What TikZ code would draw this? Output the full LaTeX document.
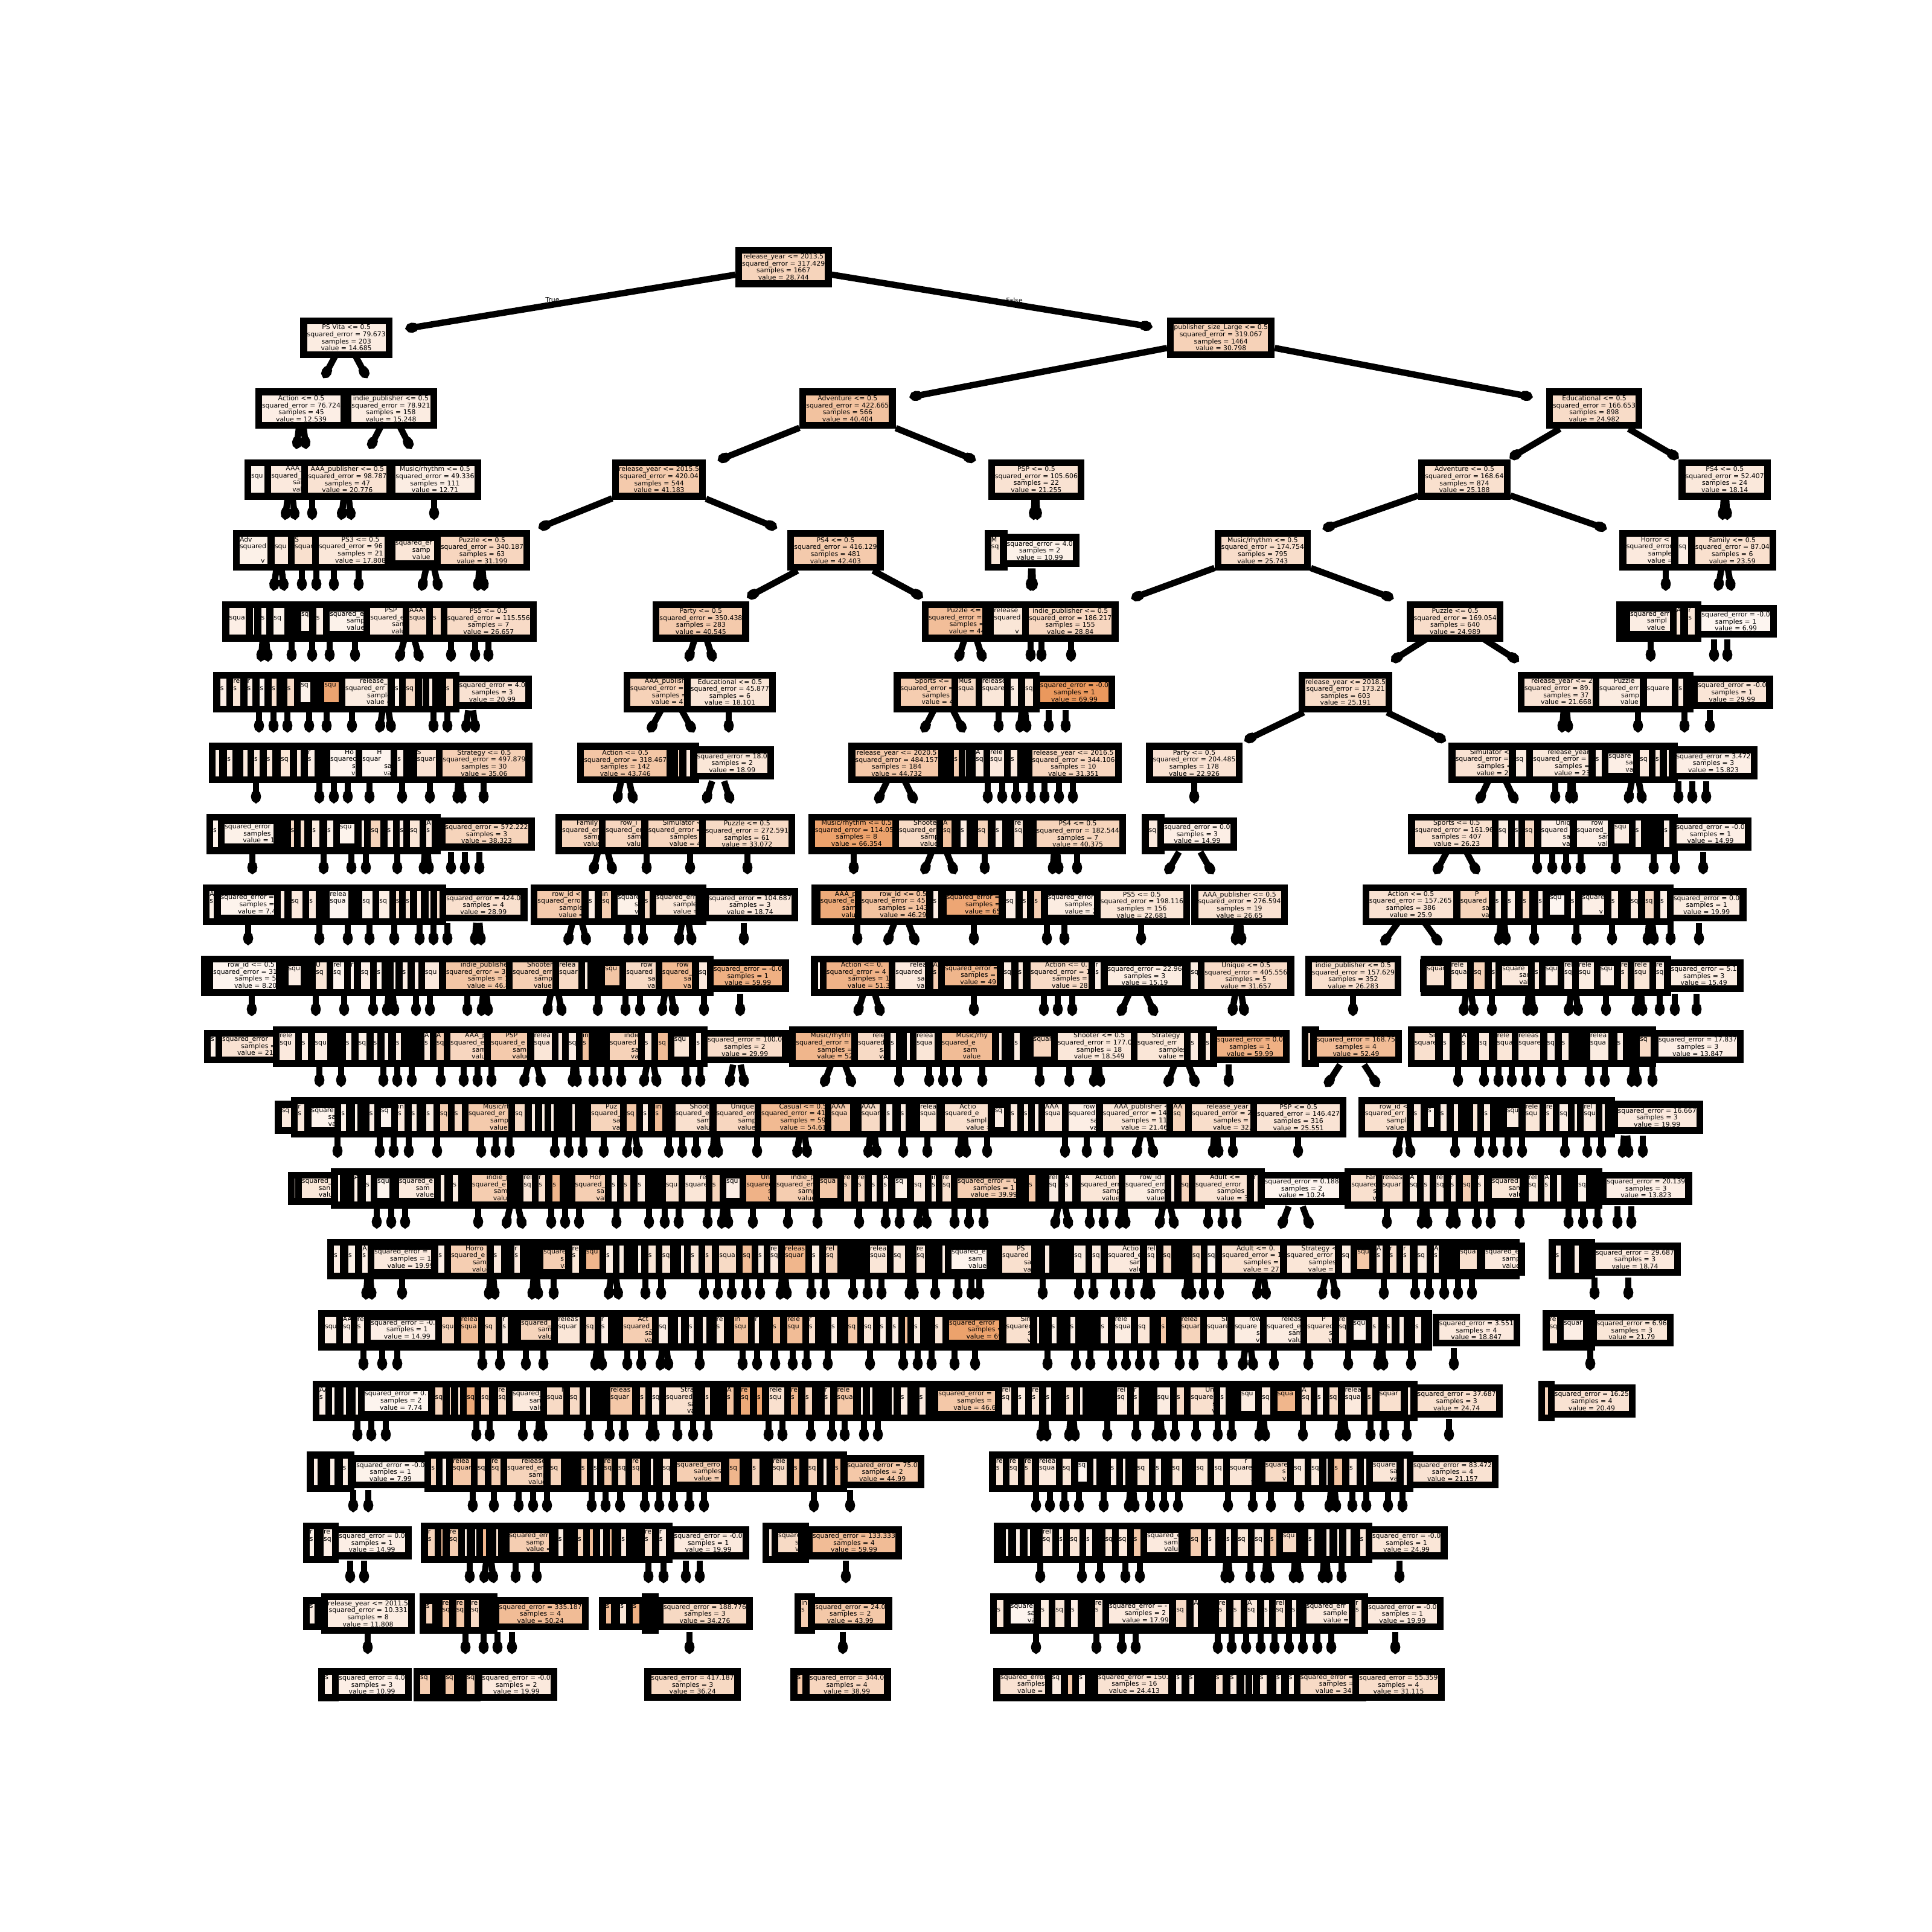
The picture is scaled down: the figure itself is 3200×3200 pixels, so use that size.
\documentclass[tikz,border=0pt]{standalone}
\usepackage{fontspec}
\setmainfont{DejaVu Sans}
\usetikzlibrary{arrows.meta}
\definecolor{o}{HTML}{E58139}
\newcommand\tf{\fontsize{10.9}{11.65}\selectfont}
\def\st{\vrule width0pt height8.75pt depth2.9pt\relax}
\def\SQ#1{\ifnum#1<6\relax\else\ifnum#1<11 s\else\ifnum#1<17 sq\else\ifnum#1<23 squ\else\ifnum#1<27 squa\else\ifnum#1<33 squar\else\ifnum#1<39 square\else\ifnum#1<44 squared\else\ifnum#1<50 squared\_\else\ifnum#1<54 squared\_e\else squared\_er\fi\fi\fi\fi\fi\fi\fi\fi\fi\fi}
\def\RE#1{\ifnum#1<5\relax\else\ifnum#1<10 r\else\ifnum#1<13 re\else\ifnum#1<18 rel\else\ifnum#1<24 rele\else\ifnum#1<29 relea\else\ifnum#1<35 releas\else release\fi\fi\fi\fi\fi\fi\fi}
\def\SM#1{\ifnum#1<6\relax\else\ifnum#1<11 s\else\ifnum#1<17 sa\else\ifnum#1<26 sam\else\ifnum#1<32 samp\else\ifnum#1<35 sampl\else sample\fi\fi\fi\fi\fi\fi}
\def\VL#1{\ifnum#1<5\relax\else\ifnum#1<11 v\else\ifnum#1<14 va\else\ifnum#1<19 val\else\ifnum#1<25 valu\else\ifnum#1<32 value\else value =\fi\fi\fi\fi\fi\fi}
\def\kl{l}\def\kr{r}\def\ki{i}
\def\zo{0}\def\zs{1}
\newcommand\ZA{\gdef\zo{300}\gdef\zs{1.206}}
\newcommand\ZB{\gdef\zo{1600}\gdef\zs{1.12}}
\newcommand\ZC{\gdef\zo{320}\gdef\zs{1.206}}
\newcommand\ZD{\gdef\zo{1600}\gdef\zs{1.2}}
\newcommand\ZE{\gdef\zo{480}\gdef\zs{1.425}}
\newcommand\ZF{\gdef\zo{1600}\gdef\zs{1.206}}
% band behind a dense cluster
\newcommand\TB[3]{\pgfmathsetmacro\yy{442+117.4*#1}\pgfmathsetmacro\xa{\zo+#2/\zs}\pgfmathsetmacro\xb{\zo+#3/\zs}\fill[black] (\xa,\yy-33.5) rectangle (\xb,\yy+33.5);}
\newcommand\TBL[3]{\pgfmathsetmacro\yy{442+117.4*#1}\pgfmathsetmacro\xa{\zo+#2/\zs}\pgfmathsetmacro\xb{\zo+#3/\zs}\fill[black] (\xa,\yy-27.5) rectangle (\xb,\yy+27.5);}
% full internal node / full leaf node, outer left given
\newcommand\TF[7]{\pgfmathsetmacro\yy{442+117.4*#1}\pgfmathsetmacro\xa{\zo+#2/\zs}\pgfmathsetmacro\pq{0.95*#3+5.7}\node[ibox,anchor=west,fill=o!\pq!white] (n#1-#2) at (\xa,\yy) {#4\\#5\\#6\\#7};}
\newcommand\TL[6]{\pgfmathsetmacro\yy{442+117.4*#1}\pgfmathsetmacro\xa{\zo+#2/\zs}\pgfmathsetmacro\pq{0.95*#3+5.7}\node[lbox,anchor=west,fill=o!\pq!white] (n#1-#2) at (\xa,\yy) {#4\\#5\\#6};}
% partly hidden nodes: the visible slit is given, with the text it shows
\newcommand\TP[8]{\pgfmathsetmacro\yy{442+117.4*#1}\pgfmathsetmacro\xa{\zo+#2/\zs}\pgfmathsetmacro\ww{(#3-#2)/\zs}\pgfmathsetmacro\wp{\ww+11.3}\pgfmathtruncatemacro\wi{\ww}\pgfmathsetmacro\pq{0.95*#4+5.7}%
\node[sbox,minimum height=55.7pt,minimum width=\wp pt,fill=o!\pq!white] (n#1-#2) at ({\xa+\ww/2},\yy) {\makebox[\ww pt][l]{\vbox{\offinterlineskip
\ifnum\wi<105 \hbox{\st\kern24pt #5}\hbox{\st #6}\hbox{\st\kern36pt #7}\hbox{\st\kern35pt #8}\else \hbox to 138pt{\st\hss #5\hss}\hbox{\st #6}\hbox to 138pt{\st\hss #7\hss}\hbox to 138pt{\st\hss #8\hss}\fi}}};}
\newcommand\TQ[7]{\pgfmathsetmacro\yy{442+117.4*#1}\pgfmathsetmacro\xa{\zo+#2/\zs}\pgfmathsetmacro\ww{(#3-#2)/\zs}\pgfmathsetmacro\wp{\ww+11.3}\pgfmathtruncatemacro\wi{\ww}\pgfmathsetmacro\pq{0.95*#4+5.7}%
\node[sbox,minimum height=43.5pt,minimum width=\wp pt,fill=o!\pq!white] (n#1-#2) at ({\xa+\ww/2},\yy) {\makebox[\ww pt][l]{\vbox{\offinterlineskip
\ifnum\wi<80 \hbox{\st #5}\hbox{\st\kern28pt #6}\hbox{\st\kern28pt #7}\else \hbox{\st #5}\hbox to 120pt{\st\hss #6\hss}\hbox to 120pt{\st\hss #7\hss}\fi}}};}
% narrow slits of hidden nodes: left/right/percent/kind
\newcommand\TS[2]{\foreach \fa/\fb/\fp/\fk in {#2}{\pgfmathsetmacro\yy{442+117.4*#1}\pgfmathsetmacro\xa{\zo+\fa/\zs}\pgfmathsetmacro\ww{(\fb-\fa)/\zs}\pgfmathsetmacro\wp{\ww+11.3}\pgfmathtruncatemacro\wi{\ww*0.88}\pgfmathsetmacro\pq{0.95*\fp+5.7}%
\ifx\fk\kl
\node[sbox,minimum height=43.5pt,minimum width=\wp pt,fill=o!\pq!white] (n#1-\fa) at ({\xa+\ww/2},\yy) {\makebox[\ww pt][l]{\vbox{\offinterlineskip\hbox{\st\SQ{\wi}}\hbox{\st\kern28pt\SM{\numexpr\wi-28\relax}}\hbox{\st\kern28pt\VL{\numexpr\wi-28\relax}}}}};
\else
\node[sbox,minimum height=55.7pt,minimum width=\wp pt,fill=o!\pq!white] (n#1-\fa) at ({\xa+\ww/2},\yy) {\makebox[\ww pt][l]{\vbox{\offinterlineskip\hbox{\st\ifx\fk\kr\RE{\wi}\else\ifx\fk\ki\relax\else\fk\fi\fi}\hbox{\st\SQ{\wi}}\hbox{\st\kern36pt\SM{\numexpr\wi-36\relax}}\hbox{\st\kern35pt\VL{\numexpr\wi-35\relax}}}}};
\fi}}
% connectors
\newcommand\Tips[2]{\pgfmathsetmacro\yy{442+117.4*#1}\foreach \t in {#2}{\coordinate (s#1-\t) at (\t,\yy+30);\coordinate (t#1-\t) at (\t,\yy+66);\draw[edge] (s#1-\t) -- (t#1-\t);}}
\newcommand\Pairs[2]{\pgfmathsetmacro\yy{442+117.4*#1}\foreach \ta/\tb in {#2}{\pgfmathsetmacro\cc{(\ta+\tb)/2}\pgfmathsetmacro\sa{\cc+(\ta-\cc)*30/65}\pgfmathsetmacro\sb{\cc+(\tb-\cc)*30/65}\coordinate (s#1-\ta) at (\sa,\yy+30);\coordinate (t#1-\ta) at (\ta,\yy+66);\coordinate (s#1-\tb) at (\sb,\yy+30);\coordinate (t#1-\tb) at (\tb,\yy+66);\draw[edge] (s#1-\ta) -- (t#1-\ta);\draw[edge] (s#1-\tb) -- (t#1-\tb);}}
\newcommand\TE[3]{\coordinate (t#1-#2) at (#2,#3);\draw[edge,shorten >=-9pt] (#1) -- (t#1-#2);}
\tikzset{
 edge/.style={line width=10.5pt,black,-{Ellipse[length=21pt,width=16.5pt]}},
 ibox/.style={draw=black,line width=11.3pt,rectangle,inner xsep=5.65pt,inner ysep=0pt,minimum height=55.7pt,align=center,font=\tf,text=black},
 lbox/.style={ibox,minimum height=43.5pt},
 sbox/.style={draw=black,line width=11.3pt,rectangle,inner sep=0pt,font=\tf,text=black,anchor=center},
 lab/.style={font=\tf,text=black,inner sep=0pt}
}
\begin{document}
\begin{tikzpicture}[x=1pt,y=-1pt]
\useasboundingbox (0,0) rectangle (3200,3200);
\fill[white] (0,0) rectangle (3200,3200);
% ---- row 0
\ZA
\TF{0}{1107}{30}{release\_year <= 2013.5}{squared\_error = 317.429}{samples = 1667}{value = 28.744}
\TE{n0-1107}{681}{543}\TE{n0-1107}{1899}{540}
\node[lab] (ltrue) at (915,497) {True};
\node[lab] (lfalse) at (1680,497) {False};
% ---- row 1
\TF{1}{238}{10}{PS Vita <= 0.5}{squared\_error = 79.673}{samples = 203}{value = 14.685}
\ZB
\TF{1}{373}{32}{publisher\_size\_Large <= 0.5}{squared\_error = 319.067}{samples = 1464}{value = 30.798}
\Pairs{1}{536/608}
\TE{n1-373}{1516}{656}\TE{n1-373}{2529}{656}
% ---- row 2
\ZA
\TF{2}{148}{8}{Action <= 0.5}{squared\_error = 76.724}{samples = 45}{value = 12.539}
\TF{2}{327}{10}{indie\_publisher <= 0.5}{squared\_error = 78.921}{samples = 158}{value = 15.248}
\TF{2}{1235}{45}{Adventure <= 0.5}{squared\_error = 422.665}{samples = 566}{value = 40.404}
\ZB
\TF{2}{1076}{23}{Educational <= 0.5}{squared\_error = 166.653}{samples = 898}{value = 24.982}
\Pairs{2}{491/507,612/681}
\TE{n2-1235}{1198}{759}\TE{n2-1235}{1607}{759}
\TE{n2-1076}{2509}{754}\TE{n2-1076}{2772}{754}
% ---- row 3
\ZA
\TB{3}{127}{250}
\TS{3}{140/166/5/i}
\TP{3}{180}{252}{12}{AAA\_pu}{squared\_}{sam}{valu}
\TF{3}{240}{18}{AAA\_publisher <= 0.5}{squared\_error = 98.787}{samples = 47}{value = 20.776}
\TF{3}{415}{9}{Music/rhythm <= 0.5}{squared\_error = 49.336}{samples = 111}{value = 12.71}
\TF{3}{861}{38}{release\_year <= 2015.5}{squared\_error = 420.04}{samples = 544}{value = 41.183}
\ZB
\TF{3}{41}{18}{PSP <= 0.5}{squared\_error = 105.606}{samples = 22}{value = 21.255}
\TF{3}{839}{20}{Adventure <= 0.5}{squared\_error = 168.64}{samples = 874}{value = 25.188}
\TF{3}{1322}{13}{PS4 <= 0.5}{squared\_error = 52.407}{samples = 24}{value = 18.14}
\Pairs{3}{472/489,565/582,1712/1718,2853/2861}
\Tips{3}{517,719}
\TE{n3-861}{901}{871}\TE{n3-861}{1278}{871}
\TE{n3-839}{2200}{873}\TE{n3-839}{2652}{873}
% ---- row 4
\ZA
\TB{4}{104}{270}
\TS{4}{117/173/6/Adv,187/213/12/i,227/265/20/S}
\TP{4}{275}{406}{14}{PS3 <= 0.5}{squared\_error = 96}{samples = 21}{value = 17.808}
\TB{4}{406}{520}
\TQ{4}{428}{505}{15}{squared\_er}{samp}{value}
\TF{4}{505}{28}{Puzzle <= 0.5}{squared\_error = 340.187}{samples = 63}{value = 31.199}
\TF{4}{1211}{38}{PS4 <= 0.5}{squared\_error = 416.129}{samples = 481}{value = 42.403}
\ZB
\TS{4}{47/65/15/M}
\TL{4}{63}{6}{squared\_error = 4.0}{samples = 2}{value = 10.99}
\TF{4}{461}{22}{Music/rhythm <= 0.5}{squared\_error = 174.754}{samples = 795}{value = 25.743}
\TP{4}{1225}{1308}{12}{Horror <}{squared\_error}{samples}{value = 1}
\TB{4}{1308}{1340}
\TS{4}{1322/1340/8/i}
\TF{4}{1340}{20}{Family <= 0.5}{squared\_error = 87.04}{samples = 6}{value = 23.59}
\Pairs{4}{453/471,698/727,791/802,1707/1711,2845/2868}
\Tips{4}{500,524,553,594,2759}
\TE{n4-1211}{1246}{985}\TE{n4-1211}{1520}{985}
\TE{n4-461}{1883}{988}\TE{n4-461}{2299}{988}
% ---- row 5
\ZA
\TB{5}{83}{540}
\TS{5}{96/130/8/i,143/148/6/i,160/170/6/i,185/206/5/i,240/256/5/l,270/283/8/i}
\TQ{5}{297}{365}{5}{squared\_e}{sample}{value =}
\TP{5}{378}{443}{12}{PSP}{squared\_e}{samp}{value}
\TS{5}{456/490/22/AAA,503/518/25/i}
\TF{5}{518}{24}{PS5 <= 0.5}{squared\_error = 115.556}{samples = 7}{value = 26.657}
\TF{5}{942}{38}{Party <= 0.5}{squared\_error = 350.438}{samples = 283}{value = 40.545}
\TP{5}{1493}{1620}{48}{Puzzle <= 0.5}{squared\_error = 4}{samples = 1}{value = 44.9}
\ZB
\TB{5}{30}{110}
\TS{5}{52/104/15/r}
\TF{5}{104}{28}{indie\_publisher <= 0.5}{squared\_error = 186.217}{samples = 155}{value = 28.84}
\TF{5}{818}{22}{Puzzle <= 0.5}{squared\_error = 169.054}{samples = 640}{value = 24.989}
\TB{5}{1206}{1360}
\TQ{5}{1232}{1310}{9}{squared\_err}{sampl}{value}
\TS{5}{1318/1325/15/A,1340/1352/15/r}
\TL{5}{1352}{2}{squared\_error = -0.0}{samples = 1}{value = 6.99}
\Pairs{5}{432/444,660/696,1139/1182,1586/1629,2305/2515}
\Tips{5}{483,517,546,588,747,787,809,1707,1725,1774,2734,2839,2861}
% ---- row 6
\ZC
\TB{6}{41}{530}
\TS{6}{54/68/8/i,80/95/15/r,108/118/8/r,133/142/2/i,157/166/20/i,188/202/25/i,215/234/5/l,262/292/70/l}
\TP{6}{304}{388}{10}{release\_year}{squared\_err}{samples}{value =}
\TS{6}{403/412/5/i,425/443/25/i,457/462/10/i,472/478/8/i,505/518/25/i}
\TL{6}{518}{18}{squared\_error = 4.0}{samples = 3}{value = 20.99}
\TP{6}{873}{980}{32}{AAA\_publisher}{squared\_error =}{samples =}{value = 41}
\TF{6}{980}{15}{Educational <= 0.5}{squared\_error = 45.877}{samples = 6}{value = 18.101}
\TB{6}{1400}{1679}
\TP{6}{1413}{1515}{36}{Sports <=}{squared\_error =}{samples =}{value = 45}
\TS{6}{1528/1563/25/Mus}
\ZB
\TS{6}{30/80/14/r,83/96/10/i,110/124/15/i}
\TL{6}{125}{80}{squared\_error = -0.0}{samples = 1}{value = 69.99}
\TF{6}{617}{23}{release\_year <= 2018.5}{squared\_error = 173.21}{samples = 603}{value = 25.191}
\TB{6}{1024}{1350}
\TP{6}{1036}{1163}{17}{release\_year <= 201}{squared\_error = 89.}{samples = 37}{value = 21.668}
\TP{6}{1175}{1250}{10}{Puzzle}{squared\_err}{sample}{value =}
\TS{6}{1263/1310/8/i,1322/1330/10/i}
\TL{6}{1345}{16}{squared\_error = -0.0}{samples = 1}{value = 29.99}
\Pairs{6}{628/649,771/788,1075/1149,1528/1597,1689/1701,2587/2598}
\Tips{6}{429,453,476,512,541,583,718,741,1207,1654,1737,1765,2713,2790,2832}
\TE{n6-617}{2070}{1223}\TE{n6-617}{2386}{1223}
% ---- row 7
\ZC
\TB{7}{33}{490}
\TS{7}{45/52/8/i,68/78/10/i,100/108/12/i,122/133/12/i,147/158/12/i,175/193/15/i,207/215/12/i,229/242/8/r}
\TP{7}{274}{325}{3}{Ho}{squared}{sa}{val}
\TP{7}{338}{395}{3}{H}{squar}{sa}{va}
\TS{7}{408/420/8/i,447/485/18/S}
\TF{7}{485}{33}{Strategy <= 0.5}{squared\_error = 497.879}{samples = 30}{value = 35.06}
\TF{7}{767}{42}{Action <= 0.5}{squared\_error = 318.467}{samples = 142}{value = 43.746}
\TB{7}{955}{1010}
\TS{7}{968/972/30/r,985/993/12/i}
\TL{7}{993}{15}{squared\_error = 18.0}{samples = 2}{value = 18.99}
\TF{7}{1309}{40}{release\_year <= 2020.5}{squared\_error = 484.157}{samples = 184}{value = 44.732}
\TB{7}{1500}{1600}
\TS{7}{1520/1530/35/i,1543/1550/8/i,1565/1575/30/i}
\ZB
\TB{7}{0}{120}
\TS{7}{18/33/12/A,45/70/12/r,83/95/12/i}
\TF{7}{110}{28}{release\_year <= 2016.5}{squared\_error = 344.106}{samples = 10}{value = 31.351}
\TF{7}{334}{18}{Party <= 0.5}{squared\_error = 204.485}{samples = 178}{value = 22.926}
\TB{7}{896}{1320}
\TP{7}{908}{1015}{18}{Simulator <=}{squared\_error =}{samples =}{value = 26.}
\TS{7}{1020/1040/10/i}
\TP{7}{1052}{1155}{13}{release\_year <=}{squared\_error =}{samples =}{value = 23.3}
\TS{7}{1168/1180/8/i}
\TQ{7}{1192}{1238}{8}{square}{san}{valu}
\TS{7}{1250/1267/12/i,1279/1290/12/i,1300/1304/8/i}
\TL{7}{1305}{8}{squared\_error = 3.472}{samples = 3}{value = 15.823}
\Pairs{7}{757/765,1021/1050,1168/1211,1452/1516,2448/2511,2600/2606,2696/2721}
\Tips{7}{424,529,553,576,612,666,712,801,1636,1660,1683,1707,1730,1754,1777,1978,2576,2780,2803,2826}
% ---- row 8
\ZC
\TB{8}{27}{495}
\TS{8}{40/50/5/i}
\TQ{8}{63}{160}{6}{squared\_error}{samples =}{value = 12}
\TS{8}{195/205/25/i,215/222/20/i,238/252/10/i,268/280/6/i,293/322/4/l,336/343/8/i,355/375/30/i,388/399/8/i,413/422/8/i,433/452/15/i,466/476/12/A}
\TL{8}{490}{30}{squared\_error = 572.222}{samples = 3}{value = 38.323}
\TB{8}{724}{1020}
\TP{8}{737}{811}{30}{Family}{squared\_er}{sampl}{value}
\TP{8}{824}{896}{28}{row\_i}{squared\_er}{samp}{value}
\TP{8}{909}{1010}{28}{Simulator <}{squared\_error =}{samples =}{value = 42}
\TF{8}{1010}{25}{Puzzle <= 0.5}{squared\_error = 272.591}{samples = 61}{value = 33.072}
\TB{8}{1229}{1670}
\TP{8}{1242}{1397}{72}{Music/rhythm <= 0.5}{squared\_error = 114.05}{samples = 8}{value = 66.354}
\TP{8}{1410}{1485}{25}{Shooter}{squared\_er}{sample}{value =}
\TS{8}{1498/1515/45/A,1533/1545/10/i}
\ZB
\TS{8}{22/40/30/i,55/67/10/i,90/105/15/r}
\TF{8}{118}{30}{PS4 <= 0.5}{squared\_error = 182.544}{samples = 7}{value = 40.375}
\TS{8}{339/356/12/i}
\TL{8}{355}{8}{squared\_error = 0.0}{samples = 3}{value = 14.99}
\TB{8}{821}{1320}
\TP{8}{833}{975}{20}{Sports <= 0.5}{squared\_error = 161.96}{samples = 407}{value = 26.23}
\TS{8}{988/1006/10/i,1018/1026/8/i,1037/1055/25/i}
\TP{8}{1067}{1120}{8}{Uniq}{squared}{sam}{valu}
\TP{8}{1133}{1190}{8}{row}{squared\_}{sam}{value}
\TS{8}{1203/1230/10/l,1242/1252/8/i,1295/1305/8/i}
\TL{8}{1305}{8}{squared\_error = -0.0}{samples = 1}{value = 14.99}
\Pairs{8}{701/711,981/1016,1529/1582,1743/1754,1932/2009,2377/2448}
\Tips{8}{418,536,582,606,658,747,770,794,1071,1143,1238,1414,1631,1784,2546,2571,2594,2618,2676,2739,2774,2821}
% ---- row 9
\ZC
\TB{9}{19}{500}
\TS{9}{33/42/6/A}
\TQ{9}{55}{162}{4}{squared\_error =}{samples =}{value = 7.4}
\TS{9}{175/183/10/i,196/219/12/i,232/245/12/i,273/310/2/r,338/360/5/i,372/393/8/i,405/418/20/i,425/435/15/i,447/455/12/i,470/477/12/i,487/492/20/i}
\TL{9}{492}{20}{squared\_error = 424.0}{samples = 4}{value = 28.99}
\TB{9}{675}{1025}
\TP{9}{688}{775}{38}{row\_id <}{squared\_erro}{samples}{value = 4}
\TS{9}{790/802/8/i,817/835/35/in}
\TQ{9}{848}{890}{6}{square}{sa}{val}
\TS{9}{902/912/25/i}
\TQ{9}{925}{1003}{15}{squared\_err}{sample}{value =}
\TL{9}{1016}{12}{squared\_error = 104.687}{samples = 3}{value = 18.74}
\TB{9}{1235}{1610}
\TP{9}{1253}{1322}{65}{AAA\_publi}{squared\_e}{samp}{value}
\TP{9}{1335}{1465}{45}{row\_id <= 0.5}{squared\_error = 45}{samples = 143}{value = 46.29}
\TS{9}{1478/1488/8/i}
\TQ{9}{1505}{1610}{68}{squared\_error =}{samples =}{value = 65}
\ZB
\TB{9}{60}{250}
\TS{9}{74/93/8/i,105/113/12/i,127/140/35/i}
\TQ{9}{152}{237}{10}{squared\_error}{samples =}{value = 25}
\TF{9}{237}{15}{PS5 <= 0.5}{squared\_error = 198.116}{samples = 156}{value = 22.681}
\TF{9}{418}{18}{AAA\_publisher <= 0.5}{squared\_error = 276.594}{samples = 19}{value = 26.65}
\TB{9}{736}{1310}
\TP{9}{748}{905}{18}{Action <= 0.5}{squared\_error = 157.265}{samples = 386}{value = 25.9}
\TP{9}{917}{970}{30}{P}{squared}{sa}{valu}
\TS{9}{982/992/10/i,1005/1018/8/i,1033/1045/25/i,1062/1070/8/i,1083/1110/2/l,1122/1130/8/i,1143/1185/8/l,1197/1210/8/i,1233/1247/10/i,1260/1277/25/i,1288/1300/8/i}
\TL{9}{1300}{10}{squared\_error = 0.0}{samples = 1}{value = 19.99}
\Pairs{9}{786/797,939/973,1123/1147,1468/1518,2046/2057,2289/2386,2482/2495,2728/2740}
\Tips{9}{411,529,576,612,653,695,718,741,1041,1065,1232,1420,1613,1734,1763,1890,2541,2611,2670,2767,2814}
% ---- row 10
\ZC
\TB{10}{16}{1040}
\TP{10}{40}{165}{3}{row\_id <= 0.5}{squared\_error = 31}{samples = 5}{value = 8.204}
\TS{10}{190/215/8/l,245/268/15/U,280/302/3/r,315/322/5/r,335/353/8/i,367/376/4/i,400/406/5/i,418/428/8/i,442/450/8/i,463/492/12/i}
\TP{10}{505}{625}{42}{indie\_publisher <}{squared\_error = 3}{samples = 14}{value = 46.8}
\TP{10}{638}{718}{35}{Shooter}{squared\_err}{sample}{value =}
\TS{10}{731/770/25/r,783/787/10/i,823/853/42/l}
\TP{10}{865}{925}{25}{row}{squared}{sa}{valu}
\TP{10}{937}{997}{52}{row}{squared\_}{sa}{valu}
\TS{10}{1010/1026/12/i}
\TL{10}{1026}{60}{squared\_error = -0.0}{samples = 1}{value = 59.99}
\TB{10}{1234}{2007}
\TS{10}{1248/1253/3/i}
\TP{10}{1265}{1390}{58}{Action <= 0.}{squared\_error = 4}{samples = 11}{value = 51.3}
\TP{10}{1403}{1462}{12}{release}{squared}{sa}{valu}
\TS{10}{1478/1490/35/A}
\TQ{10}{1502}{1606}{55}{squared\_error =}{samples = 1}{value = 49.9}
\ZB
\TS{10}{70/84/10/i,97/105/12/i}
\TP{10}{120}{232}{25}{Action <= 0.}{squared\_error = 1}{samples = 1}{value = 28.7}
\TS{10}{240/250/8/r}
\TL{10}{250}{10}{squared\_error = 22.96}{samples = 3}{value = 15.19}
\TS{10}{417/432/10/i}
\TF{10}{430}{24}{Unique <= 0.5}{squared\_error = 405.556}{samples = 5}{value = 31.657}
\TF{10}{629}{20}{indie\_publisher <= 0.5}{squared\_error = 157.629}{samples = 352}{value = 26.283}
\TB{10}{843}{1305}
\TS{10}{855/890/18/l,900/930/15/r,942/962/32/i,975/983/10/i}
\TQ{10}{995}{1045}{12}{square}{san}{valu}
\TS{10}{1055/1063/12/i,1075/1098/8/l,1110/1127/8/r,1137/1165/10/r,1177/1202/8/l,1215/1228/15/r,1240/1268/15/r,1280/1295/10/r}
\TL{10}{1295}{10}{squared\_error = 5.1}{samples = 3}{value = 15.49}
\Pairs{10}{640/654,797/809,905/932,1095/1118,1419/1460,1854/1914,2040/2062,2423/2442,2529/2540,2597/2615,2710/2721}
\Tips{10}{417,523,570,618,689,712,774,990,1036,1060,1166,1226,1613,1729,1752,1776,2241,2471,2660,2749,2774,2810}
% ---- row 11
\ZC
\TS{11}{35/46/6/l}
\TQ{11}{58}{160}{18}{squared\_error}{samples =}{value = 21.9}
\TB{11}{160}{1025}
\TS{11}{173/204/12/r,217/230/8/i,243/268/8/i,305/317/6/i,330/346/6/i,360/370/8/i,382/390/6/i,405/415/10/i,462/475/12/A,486/502/35/A}
\TP{11}{514}{582}{28}{AAA\_pub}{squared\_e}{sam}{value}
\TP{11}{595}{668}{38}{PSP}{squared\_e}{samp}{value}
\TS{11}{681/716/15/r,730/738/12/i,750/766/8/i,778/790/45/in}
\TP{11}{832}{890}{32}{indie\_pu}{squared}{san}{valu}
\TS{11}{902/916/15/i,929/948/50/i,961/990/15/l,1005/1014/8/i}
\TL{11}{1014}{22}{squared\_error = 100.0}{samples = 2}{value = 29.99}
\TB{11}{1192}{2031}
\TP{11}{1204}{1315}{55}{Music/rhythm <}{squared\_error =}{samples =}{value = 52.}
\TP{11}{1328}{1380}{25}{release}{squared}{sa}{val}
\TS{11}{1393/1404/8/i,1425/1433/8/i,1445/1482/15/r}
\TP{11}{1495}{1595}{50}{Music/rhy}{squared\_e}{sam}{value}
\ZB
\TS{11}{62/66/10/i,90/100/10/i,125/160/28/l}
\TP{11}{170}{306}{14}{Shooter <= 0.5}{squared\_error = 177.0}{samples = 18}{value = 18.549}
\TP{11}{318}{405}{15}{Strategy}{squared\_err}{samples}{value =}
\TS{11}{417/430/10/i,445/453/12/i}
\TL{11}{453}{60}{squared\_error = 0.0}{samples = 1}{value = 59.99}
\TS{11}{635/642/25/i}
\TL{11}{638}{50}{squared\_error = 168.75}{samples = 4}{value = 52.49}
\TB{11}{820}{1280}
\TP{11}{832}{870}{20}{Sim}{square}{s}{v}
\TS{11}{885/897/10/i,920/930/10/A,952/970/12/i,985/1015/15/r,1025/1068/12/r,1078/1092/8/i,1105/1118/10/i,1158/1192/10/r,1208/1218/8/i,1250/1270/25/l}
\TL{11}{1272}{8}{squared\_error = 17.837}{samples = 3}{value = 13.847}
\Pairs{11}{866/898,948/956,1065/1089,1207/1234,1363/1413,1811/1823,1932/1982,2196/2283,2702/2712}
\Tips{11}{529,565,635,658,682,730,768,791,814,983,1006,1029,1137,1160,1489,1539,1562,1585,1627,1722,1771,2035,2415,2458,2482,2504,2528,2551,2586,2633,2658,2737}
% ---- row 12
\ZC
\TS{12}{177/195/12/l}
\TB{12}{195}{2124}
\TS{12}{209/222/12/r}
\TQ{12}{236}{282}{4}{square}{san}{val}
\TS{12}{296/305/6/i,323/328/6/i,352/362/8/i,375/397/3/l,409/422/12/in,436/446/10/i,466/480/10/i,493/509/35/i,522/537/25/i}
\TP{12}{550}{630}{38}{Music/rhyt}{squared\_er}{sample}{value =}
\TS{12}{643/662/25/i,677/682/10/i,697/702/10/i,715/720/8/i,757/762/8/i}
\TP{12}{795}{853}{30}{Puz}{squared\_}{san}{valu}
\TS{12}{866/885/40/i,899/908/10/i,923/937/50/in}
\TP{12}{963}{1032}{20}{Shoot}{squared\_e}{samp}{value}
\TP{12}{1045}{1122}{28}{Unique}{squared\_err}{sampl}{value}
\TP{12}{1135}{1262}{52}{Casual <= 0.5}{squared\_error = 41}{samples = 59}{value = 54.61}
\TS{12}{1275/1312/38/AAA,1335/1373/25/AAA,1385/1397/8/i,1413/1423/10/i,1452/1485/15/r}
\TP{12}{1502}{1588}{20}{Actio}{squared\_e}{sampl}{value =}
\ZD
\TS{12}{57/77/8/l,89/102/12/i,115/125/10/i,137/145/8/i,157/192/12/AAA}
\TP{12}{204}{260}{8}{row}{squared}{sa}{valu}
\TP{12}{272}{400}{15}{AAA\_publisher <=}{squared\_error = 14}{samples = 11}{value = 21.46}
\TS{12}{412/435/30/AA}
\TP{12}{449}{565}{22}{release\_year <=}{squared\_error = 2}{samples =}{value = 32.8}
\TF{12}{565}{17}{PSP <= 0.5}{squared\_error = 146.427}{samples = 316}{value = 25.551}
\TB{12}{780}{1290}
\TP{12}{793}{877}{20}{row\_id <}{squared\_err}{sample}{value =}
\TS{12}{890/904/12/i,918/930/5/l,943/955/10/i,970/978/8/i,1008/1016/15/i,1030/1042/10/i,1075/1100/10/l,1112/1140/15/r,1153/1167/12/r,1180/1197/8/i,1210/1217/10/i,1228/1252/10/r,1265/1270/8/i}
\TL{12}{1282}{12}{squared\_error = 16.667}{samples = 3}{value = 19.99}
\Pairs{12}{1037/1058,1180/1190,1319/1338,1437/1453,1589/1601,1881/1912,2008/2019,2313/2338,2687/2698}
\Tips{12}{559,629,652,677,724,797,821,844,919,942,965,1000,1108,1130,1153,1254,1496,1536,1635,1764,1800,1836,2042,2150,2410,2450,2473,2497,2521,2592,2629,2652,2721}
% ---- row 13
\ZC
\TS{13}{203/205/10/l}
\TQ{13}{217}{275}{14}{squared\_}{san}{valu}
\TB{13}{275}{2126}
\TS{13}{289/293/6/i,322/328/8/A,345/355/6/i,368/392/3/l}
\TQ{13}{411}{481}{12}{squared\_e}{sam}{value}
\TS{13}{495/502/10/i,519/530/10/i}
\TP{13}{557}{627}{36}{indie\_pub}{squared\_e}{samp}{value}
\TS{13}{660/678/15/r,690/703/20/r,718/732/55/i}
\TP{13}{763}{823}{35}{Hor}{squared\_}{san}{valu}
\TS{13}{836/846/10/i,860/873/25/i,888/902/10/i,944/970/20/i}
\TP{13}{983}{1024}{15}{release}{square}{s}{va}
\TS{13}{1037/1052/30/i,1065/1092/8/l}
\TP{13}{1105}{1152}{58}{Un}{squared}{sa}{val}
\TP{13}{1165}{1238}{36}{indie\_publ}{squared\_en}{samp}{value}
\TS{13}{1252/1287/40/l,1300/1315/30/r,1328/1342/25/r,1355/1365/10/i,1379/1388/8/A,1403/1425/6/l,1440/1462/12/i,1475/1487/10/in,1497/1513/20/r}
\TQ{13}{1527}{1644}{35}{squared\_error = 0}{samples = 1}{value = 39.99}
\ZD
\TS{13}{125/138/40/i,165/183/10/r,197/211/8/A}
\TP{13}{228}{306}{15}{Action}{squared\_err}{samp}{value =}
\TP{13}{317}{395}{10}{row\_id}{squared\_err}{sampl}{value =}
\TS{13}{408/415/10/i,428/443/30/i}
\TP{13}{456}{560}{18}{Adult <=}{squared\_error}{samples}{value = 30}
\TS{13}{572/580/12/r}
\TL{13}{580}{3}{squared\_error = 0.188}{samples = 2}{value = 10.24}
\TB{13}{752}{1265}
\TP{13}{766}{815}{20}{Fam}{squared}{san}{valu}
\TS{13}{828/868/20/r,882/897/10/A,910/923/12/i,935/950/12/r,963/973/12/r,988/1004/35/i,1017/1030/12/r}
\TQ{13}{1045}{1100}{15}{squared}{sam}{valu}
\TS{13}{1118/1136/10/r,1150/1160/10/A,1175/1183/8/i,1217/1232/5/i}
\TL{13}{1260}{8}{squared\_error = 20.139}{samples = 3}{value = 13.823}
\Pairs{13}{837/866,1195/1207,1520/1536,1746/1771,1854/1865,1919/1946,2121/2171,2354/2365,2402/2412}
\Tips{13}{624,648,671,792,913,936,959,1021,1075,1101,1124,1172,1247,1305,1354,1423,1467,1490,1581,1605,1629,1805,1828,2001,2025,2048,2297,2446,2469,2517,2598,2622,2646,2679,2702}
% ---- row 14
\ZC
\TB{14}{268}{2650}
\TS{14}{281/293/8/i,310/323/6/i,338/349/8/A}
\TQ{14}{362}{475}{12}{squared\_error =}{samples = 1}{value = 19.99}
\TS{14}{490/502/8/i}
\TP{14}{515}{587}{35}{Horro}{squared\_e}{samp}{value}
\TS{14}{600/615/12/i,642/653/12/r}
\TQ{14}{700}{743}{35}{square}{s}{va}
\TS{14}{757/771/15/r,785/812/55/l,825/838/10/i,852/860/10/i,889/895/5/i,909/924/15/i,937/953/15/i,975/981/8/i,994/1009/15/i,1023/1036/25/i,1051/1085/25/i,1098/1116/50/i,1129/1140/10/i,1153/1169/12/r,1182/1223/55/r,1236/1251/10/i,1264/1287/30/r,1352/1386/15/r,1399/1422/12/i,1445/1462/12/r,1497/1502/10/i}
\TQ{14}{1515}{1585}{4}{squared\_e}{sam}{value}
\ZD
\TP{14}{72}{130}{20}{PS}{squared}{sa}{valu}
\TS{14}{157/165/10/i,215/238/10/i,251/268/12/i}
\TP{14}{282}{345}{12}{Actio}{squared\_e}{samp}{value}
\TS{14}{360/380/12/r,392/408/25/i,450/467/25/i,480/495/3/i}
\TP{14}{509}{625}{20}{Adult <= 0.}{squared\_error = 1}{samples = 9}{value = 27.9}
\TP{14}{638}{733}{15}{Strategy <}{squared\_error}{samples}{value = 2}
\TS{14}{747/765/10/i,778/802/40/l,816/828/12/A,842/855/20/r,869/882/15/r,897/915/10/i,930/940/10/A,982/1015/20/l}
\TQ{14}{1032}{1097}{12}{squared\_e}{samp}{value}
\TB{14}{1158}{1250}
\TS{14}{1172/1182/8/i,1210/1218/8/i}
\TL{14}{1238}{12}{squared\_error = 29.687}{samples = 3}{value = 18.74}
\Pairs{14}{606/616,809/820,881/892,1007/1025,1292/1304,1506/1514,1896/1906,1964/1974,2081/2098,2188/2214}
\Tips{14}{666,917,1069,1095,1166,1189,1212,1236,1259,1344,1366,1413,1437,1460,1549,1586,1609,1622,1727,1787,1811,1847,1871,1994,2019,2292,2344,2367,2392,2415,2438,2641,2697}
% ---- row 15
\ZC
\TB{15}{250}{2475}
\TS{15}{263/287/8/i,299/316/8/AA,328/343/8/r}
\TQ{15}{355}{484}{8}{squared\_error = -0.}{samples = 1}{value = 14.99}
\TS{15}{497/522/30/i,535/570/50/r,583/605/30/i,618/628/10/r}
\TQ{15}{655}{715}{30}{squared\_}{sam}{value}
\TS{15}{729/772/15/r,785/802/25/i,815/828/8/r}
\TP{15}{859}{917}{35}{Act}{squared\_}{san}{valu}
\TS{15}{930/948/8/i,968/975/8/i,990/1000/8/i,1018/1025/10/i,1045/1060/15/r,1081/1110/45/in,1122/1130/10/r,1158/1172/45/i,1187/1217/50/r,1230/1242/20/r,1275/1285/8/i,1308/1328/40/i,1340/1360/15/i,1372/1383/8/i,1397/1408/8/i,1422/1427/50/i,1440/1452/10/i,1482/1497/15/i}
\TQ{15}{1510}{1613}{72}{squared\_error}{samples =}{value = 69.}
\ZD
\TP{15}{80}{127}{20}{Sim}{squared}{sa}{va}
\TS{15}{142/145/8/i,170/180/6/i,207/217/8/i,268/282/8/i,296/328/10/r,342/365/15/i,388/397/40/i,428/466/30/r}
\TP{15}{479}{520}{15}{Sl}{square}{s}{val}
\TP{15}{534}{585}{10}{row}{square}{sa}{val}
\TP{15}{598}{665}{10}{release\_y}{squared\_e}{samp}{value}
\TP{15}{678}{728}{15}{P}{squared}{sa}{va}
\TS{15}{741/757/15/r,770/795/4/l,808/820/10/i,836/846/10/i,862/870/8/i,893/905/8/i}
\TL{15}{927}{12}{squared\_error = 3.551}{samples = 4}{value = 18.847}
\TB{15}{1146}{1250}
\TS{15}{1160/1175/15/r,1188/1226/8/l}
\TL{15}{1240}{15}{squared\_error = 6.96}{samples = 3}{value = 21.79}
\Pairs{15}{985/998,1093/1108,2057/2077,2282/2292}
\Tips{15}{602,633,658,799,828,871,900,1039,1062,1159,1230,1254,1284,1313,1336,1371,1441,1496,1520,1543,1581,1615,1735,1782,1806,1842,1865,1888,1912,1954,1977,2025,2110,2167,2233,2337,2408,2634}
% ---- row 16
\ZE
\TB{16}{56}{2645}
\TS{16}{70/85/8/AA,100/105/6/i,127/133/6/i,155/161/6/i}
\TQ{16}{177}{326}{3}{squared\_error = 0.}{samples = 2}{value = 7.74}
\TS{16}{343/362/30/i,377/382/30/r,397/404/20/i,418/436/65/i,452/470/30/i,492/510/25/r}
\TQ{16}{526}{595}{12}{squared\_}{sam}{value}
\TP{16}{607}{647}{25}{Mus}{squar}{s}{v}
\TS{16}{661/685/25/i,700/708/10/i,757/808/40/r,827/840/30/i,855/873/12/i}
\TP{16}{888}{950}{20}{Stra}{squared}{sa}{val}
\TS{16}{981/992/25/i,1032/1048/45/A,1065/1086/65/r,1103/1115/70/i,1132/1168/20/r,1183/1200/55/r,1217/1233/30/i,1262/1275/20/r,1292/1330/40/r,1348/1353/8/i,1369/1375/8/i,1420/1425/8/i,1442/1458/10/i,1486/1500/12/i}
\TQ{16}{1531}{1665}{40}{squared\_error =}{samples =}{value = 46.6}
\ZF
\TS{16}{72/90/15/r,104/118/10/i,132/147/15/r,160/170/8/i,200/213/15/i,228/233/8/i,302/322/12/r,335/345/12/r,382/408/10/i,421/435/25/i}
\TP{16}{449}{495}{20}{Un}{square}{sa}{va}
\TS{16}{508/518/10/i,550/578/10/l,591/609/12/i,622/657/55/l,671/689/20/A,702/714/8/i,726/743/25/i,757/790/12/r,802/812/25/i,826/868/20/l,883/888/10/i}
\TL{16}{888}{20}{squared\_error = 37.687}{samples = 3}{value = 24.74}
\TS{16}{1157/1162/30/i}
\TL{16}{1162}{18}{squared\_error = 16.25}{samples = 4}{value = 20.49}
\Pairs{16}{891/899,1077/1085,1724/1734,1770/1781,1915/1925,2085/2096,2218/2230}
\Tips{16}{592,615,639,789,811,866,975,1010,1033,1122,1148,1172,1273,1296,1343,1378,1399,1431,1454,1834,1882,1946,1981,2017,2040,2158,2270,2293,2330,2400}
% ---- row 17
\ZE
\TB{17}{40}{150}
\TS{17}{57/65/8/r,96/105/8/i,125/137/10/i}
\TL{17}{141}{5}{squared\_error = -0.0}{samples = 1}{value = 7.99}
\TB{17}{318}{1310}
\TS{17}{334/345/30/i,361/370/8/i,385/430/40/r,443/461/30/i,476/497/35/r}
\TP{17}{513}{600}{30}{release\_yea}{squared\_er}{samp}{value}
\TS{17}{615/640/30/i,688/701/35/i,717/727/8/i,742/760/40/r,775/793/25/i,808/827/35/r,852/858/8/i,880/898/20/i}
\TQ{17}{914}{1017}{35}{squared\_erro}{samples}{value = 3}
\TS{17}{1038/1062/55/i,1077/1080/8/i,1092/1108/30/i,1140/1173/25/r,1190/1202/50/i,1224/1244/30/i,1260/1267/8/i,1287/1299/50/i}
\TL{17}{1300}{40}{squared\_error = 75.0}{samples = 2}{value = 44.99}
\ZF
\TB{17}{47}{890}
\TS{17}{60/74/15/r,87/104/15/r,117/132/20/r,146/180/12/r,193/211/15/i,224/241/2/l,255/260/8/i,289/300/8/i,314/318/8/i,342/365/15/i,379/390/8/i,412/432/15/i,460/482/15/i,496/514/12/i}
\TP{17}{527}{571}{15}{r}{square}{s}{va}
\TQ{17}{598}{642}{25}{square}{s}{v}
\TS{17}{655/677/12/i,690/706/12/i,720/724/8/i,736/751/45/i,766/780/12/i,795/800/8/i}
\TQ{17}{813}{861}{15}{square}{sa}{val}
\TS{17}{874/880/10/i}
\TL{17}{880}{18}{squared\_error = 83.472}{samples = 4}{value = 21.157}
\Pairs{17}{1869/1880,2201/2214}
\Tips{17}{585,610,783,818,859,883,906,980,1003,1027,1068,1092,1115,1142,1166,1348,1408,1716,1739,1763,1787,1828,1905,1928,1951,2034,2075,2105,2152,2240,2263,2299,2323}
% ---- row 18
\ZE
\TB{18}{31}{110}
\TS{18}{47/57/6/r,80/100/8/r}
\TL{18}{100}{8}{squared\_error = 0.0}{samples = 1}{value = 14.99}
\TB{18}{309}{900}
\TS{18}{326/342/30/r,358/362/50/i,377/398/35/r,413/418/10/i,437/442/8/i,456/463/55/i,487/492/20/i}
\TQ{18}{518}{612}{35}{squared\_err}{samp}{value =}
\TS{18}{634/645/10/i,680/693/30/i,708/716/50/i,732/739/10/i,755/760/50/i,783/793/12/i,838/855/20/r,872/888/10/r}
\TL{18}{891}{12}{squared\_error = -0.0}{samples = 1}{value = 19.99}
\TB{18}{1116}{1225}
\TS{18}{1132/1138/10/i}
\TQ{18}{1153}{1200}{25}{square}{s}{v}
\TL{18}{1218}{50}{squared\_error = 133.333}{samples = 4}{value = 59.99}
\ZF
\TB{18}{55}{805}
\TS{18}{80/84/6/i,100/107/8/i,123/128/6/i,153/172/12/r,186/195/10/i,208/227/15/i,240/252/8/i,278/294/15/i,305/322/12/i,335/349/40/i}
\TQ{18}{362}{425}{12}{squared\_e}{samp}{value}
\TS{18}{449/469/35/i,484/498/12/i,520/530/10/i,543/563/15/i,577/595/12/i,608/620/40/i,633/660/25/l,684/696/10/i,720/726/10/i,742/745/10/i,760/768/10/i,787/798/15/i}
\TL{18}{798}{15}{squared\_error = -0.0}{samples = 1}{value = 24.99}
\Pairs{18}{801/818,2029/2037,2095/2103,2142/2152,2190/2200}
\Tips{18}{580,603,778,854,889,1074,1099,1136,1159,1401,1723,1792,1822,1864,1888,2071,2222,2318}
% ---- row 19
\ZE
\TS{19}{47/58/10/l}
\TF{19}{74}{10}{release\_year <= 2011.5}{squared\_error = 10.331}{samples = 8}{value = 11.808}
\TB{19}{306}{490}
\TS{19}{322/336/30/l,360/378/40/r,393/412/40/r,428/446/25/r}
\TL{19}{478}{50}{squared\_error = 335.187}{samples = 4}{value = 50.24}
\TS{19}{746/758/50/l,780/794/15/l,810/825/60/l}
\TB{19}{831}{870}
\TL{19}{866}{26}{squared\_error = 188.776}{samples = 3}{value = 34.276}
\TS{19}{1207/1223/35/in}
\TL{19}{1224}{40}{squared\_error = 24.0}{samples = 2}{value = 43.99}
\ZF
\TB{19}{48}{800}
\TS{19}{62/75/15/i}
\TQ{19}{89}{135}{3}{square}{sa}{val}
\TS{19}{150/165/10/i,179/197/15/i,210/223/8/i,258/273/15/r}
\TQ{19}{286}{405}{12}{squared\_error = -}{samples = 2}{value = 17.99}
\TS{19}{420/440/25/i,455/463/12/A,505/520/15/r,534/549/15/i,562/581/12/A,596/605/8/i,619/637/15/r,651/660/10/i}
\TQ{19}{680}{765}{12}{squared\_err}{sample}{value =}
\TS{19}{778/790/15/r}
\TL{19}{790}{12}{squared\_error = -0.0}{samples = 1}{value = 19.99}
\Tips{19}{609,771,801,824,848,1142,1396,1716,1816,1858,1881,2017,2040,2064,2088,2111,2135,2158,2182,2205,2311}
% ---- row 20
\ZE
\TBL{20}{67}{115}
\TS{20}{83/100/8/l}
\TL{20}{100}{8}{squared\_error = 4.0}{samples = 3}{value = 10.99}
\TBL{20}{292}{450}
\TS{20}{308/330/35/l,368/388/40/l,418/436/30/l}
\TL{20}{438}{12}{squared\_error = -0.0}{samples = 2}{value = 19.99}
\TL{20}{837}{26}{squared\_error = 417.187}{samples = 3}{value = 36.24}
\TS{20}{1198/1210/40/l}
\TL{20}{1211}{28}{squared\_error = 344.0}{samples = 4}{value = 38.99}
\ZF
\TBL{20}{54}{800}
\TQ{20}{69}{158}{18}{squared\_error}{samples}{value = 2}
\TS{20}{172/189/10/l,204/212/40/l,226/238/8/l}
\TQ{20}{264}{404}{18}{squared\_error = 150.}{samples = 16}{value = 24.413}
\TS{20}{420/430/8/l,446/456/8/l,499/513/20/l,528/540/12/l,556/562/8/l,572/578/8/l,587/600/12/l,620/630/10/l,645/655/10/l}
\TQ{20}{668}{772}{25}{squared\_error =}{samples =}{value = 34.9}
\TL{20}{772}{22}{squared\_error = 55.359}{samples = 4}{value = 31.115}
\end{tikzpicture}
\end{document}
